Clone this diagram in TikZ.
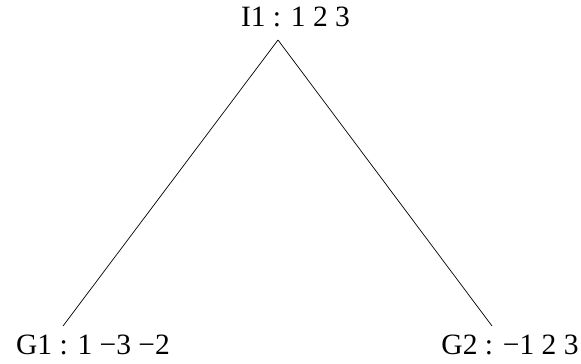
\documentclass[tikz,border=0pt]{standalone}
\usepackage{fontspec}
\setmainfont{Liberation Serif}
\begin{document}
\begin{tikzpicture}[
  x=1pt, y=1pt,
  lbl/.style={anchor=base, inner sep=0pt, font=\fontsize{29.5}{35}\selectfont},
  edge/.style={draw, line width=0.7pt}
]
  \useasboundingbox (0,0) rectangle (581,364);
  \node[lbl] (i1) at (295.5,337) {I1 : 1 2 3};
  \node[lbl] (g1) at (93,9) {G1 : 1 −3 −2};
  \node[lbl] (g2) at (510,9) {G2 : −1 2 3};
  \coordinate (top) at (278,324);
  \coordinate (left) at (63,38);
  \coordinate (right) at (492,38);
  \draw[edge] (top) -- (left);
  \draw[edge] (top) -- (right);
\end{tikzpicture}
\end{document}
